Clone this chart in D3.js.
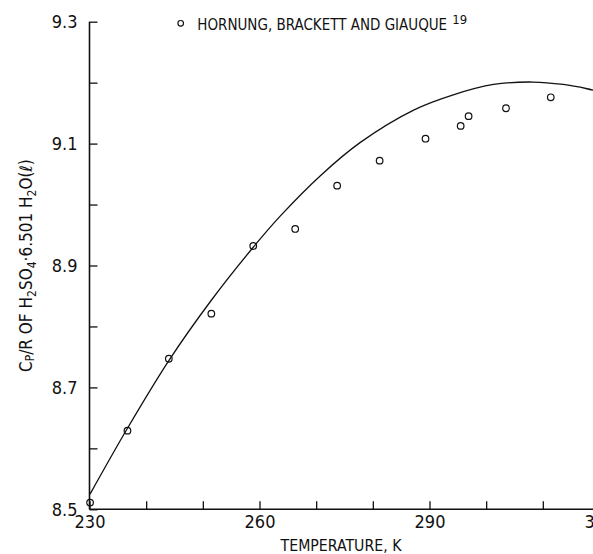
<!DOCTYPE html>
<html>
<head>
<meta charset="utf-8">
<script src="https://cdn.jsdelivr.net/npm/d3@7"></script>
<style>
  html, body { margin: 0; padding: 0; background: #fff; }
  svg { display: block; }
  text { font-family: "Liberation Sans Narrow", "DejaVu Sans Condensed", "Liberation Sans", sans-serif; fill: #111; }
</style>
</head>
<body>
<svg id="chart" width="593" height="554"></svg>
<script>
// Smoothed Cp/R curve for H2SO4·6.501 H2O(l)
const curveT  = [230.1, 236.7, 244.0, 251.5, 258.9, 263.65, 270.7, 277.8, 287.2, 294.2, 301.3, 308.3, 313.6, 317.8, 320.0];
const curveCp = [8.525, 8.633, 8.744, 8.843, 8.930, 8.981, 9.047, 9.102, 9.155, 9.180, 9.197, 9.201, 9.197, 9.190, 9.185];

// Measured values (Hornung, Brackett and Giauque)
const obsT  = [230.1, 236.7, 244.0, 251.5, 258.9, 266.3, 273.7, 281.2, 289.3, 295.5, 296.9, 303.5, 311.4];
const obsCp = [8.511, 8.629, 8.747, 8.821, 8.932, 8.960, 9.031, 9.072, 9.108, 9.129, 9.145, 9.158, 9.176];

// Axis ticks and labels
const xTicks = [230, 240, 250, 260, 270, 280, 290, 300, 310, 320];
const xLabeled = [230, 260, 290, 320];
const yTicks = [8.5, 8.6, 8.7, 8.8, 8.9, 9.0, 9.1, 9.2, 9.3];
const yLabeled = [8.5, 8.7, 8.9, 9.1, 9.3];

const legendText = "HORNUNG, BRACKETT AND GIAUQUE";
const legendRef = "19";
const xTitle = "TEMPERATURE, K";

const svg = d3.select("#chart");

const x = d3.scaleLinear().domain([230, 320]).range([89.5, 599.5]);
const y = d3.scaleLinear().domain([8.5, 9.3]).range([509.3, 21.7]);

// size a text so its run fills the given width
function fitWidth(sel, width, baseSize) {
  sel.attr("font-size", baseSize);
  const w = sel.node().getComputedTextLength();
  sel.attr("font-size", baseSize * width / w);
  return sel;
}

// x axis: inward ticks
const xAxis = d3.axisBottom(x)
  .tickValues(xTicks)
  .tickSize(-8)
  .tickPadding(6)
  .tickFormat(d => xLabeled.includes(d) ? d3.format("d")(d) : "");
const gx = svg.append("g").attr("transform", `translate(0,${y(8.5)})`).call(xAxis);
gx.select(".domain").attr("d", `M${x(230)},0H593`).attr("stroke", "#111").attr("stroke-width", 1.6);
gx.selectAll(".tick line").attr("stroke", "#111").attr("stroke-width", 1.3);
gx.selectAll(".tick text").attr("font-size", 18).attr("fill", "#111")
  .style("font-family", '"Liberation Sans Narrow", "DejaVu Sans Condensed", sans-serif');

// y axis: inward ticks
const yAxis = d3.axisLeft(y)
  .tickValues(yTicks)
  .tickSize(-8)
  .tickPadding(12)
  .tickFormat(d => yLabeled.some(v => Math.abs(v - d) < 1e-9) ? d3.format(".1f")(d) : "");
const gy = svg.append("g").attr("transform", `translate(${x(230)},0)`).call(yAxis);
gy.select(".domain").attr("d", `M0,${y(9.3)}V${y(8.5)}`).attr("stroke", "#111").attr("stroke-width", 1.6);
gy.selectAll(".tick line").attr("stroke", "#111").attr("stroke-width", 1.3);
gy.selectAll(".tick text").attr("font-size", 18).attr("fill", "#111")
  .style("font-family", '"Liberation Sans Narrow", "DejaVu Sans Condensed", sans-serif');

// smoothed curve
const line = d3.line()
  .x((d, i) => x(curveT[i]))
  .y((d, i) => y(curveCp[i]))
  .curve(d3.curveCatmullRom.alpha(0.5));
svg.append("path")
  .attr("d", line(curveT))
  .attr("fill", "none")
  .attr("stroke", "#111")
  .attr("stroke-width", 1.3);

// measured points
svg.append("g").selectAll("circle")
  .data(obsT)
  .join("circle")
  .attr("cx", (d, i) => x(obsT[i]))
  .attr("cy", (d, i) => y(obsCp[i]))
  .attr("r", 3.3)
  .attr("fill", "none")
  .attr("stroke", "#111")
  .attr("stroke-width", 1.2);

// legend: marker, source name, reference number
svg.append("circle").attr("cx", 180.7).attr("cy", 23.3).attr("r", 2.8)
  .attr("fill", "none").attr("stroke", "#111").attr("stroke-width", 1.2);
const lg = svg.append("text").attr("x", 197.3).attr("y", 30).text(legendText);
fitWidth(lg, 250, 18);
svg.append("text").attr("x", 197.3 + 250 + 5).attr("y", 24).attr("font-size", 13).text(legendRef);

// x title
const xt = svg.append("text")
  .attr("x", 341).attr("y", 551)
  .attr("text-anchor", "middle")
  .text(xTitle);
fitWidth(xt, 121, 18);

// y title with sub/superscripts
const yt = svg.append("text")
  .attr("transform", "translate(32,372) rotate(-90)")
  .attr("font-size", 17);
const parts = [
  ["C", 0, 17], ["P", 2, 12], ["/R OF H", 0, 17], ["2", 4, 12], ["SO", 0, 17], ["4", 4, 12],
  ["·6.501 H", 0, 17], ["2", 4, 12], ["O(ℓ)", 0, 17]
];
let prevShift = 0;
parts.forEach(([t, shift, fs]) => {
  yt.append("tspan").attr("dy", shift - prevShift).attr("font-size", fs).text(t);
  prevShift = shift;
});
</script>
</body>
</html>
